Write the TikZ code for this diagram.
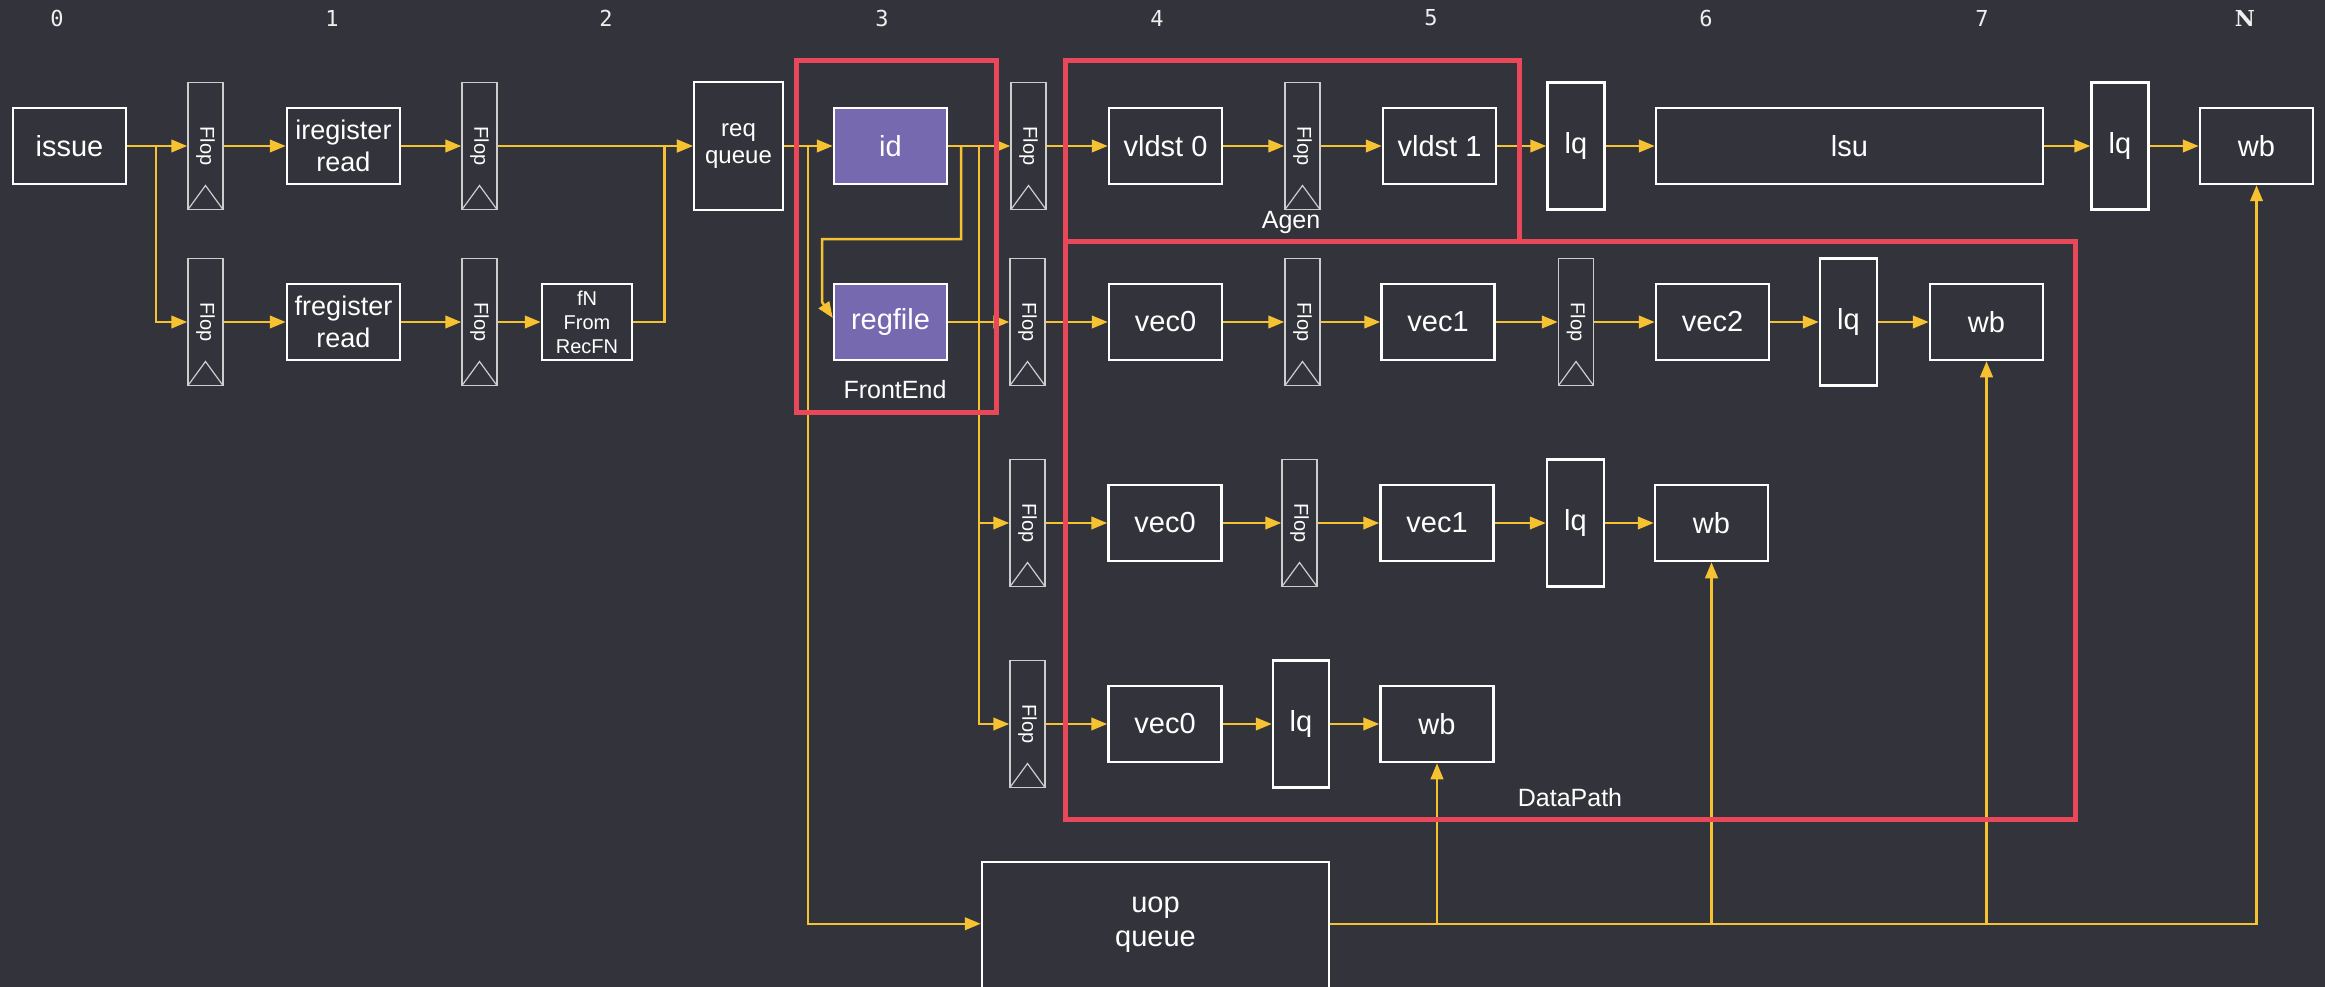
\documentclass[tikz,border=0pt]{standalone}
\usepackage{fontspec}
\usepackage{graphicx}
\setmainfont{Liberation Sans}
\newfontfamily\monofam{DejaVu Sans Mono}
\newfontfamily\seriffam{DejaVu Serif}
\usetikzlibrary{arrows.meta,calc}
\definecolor{bg}{RGB}{51,51,59}
\definecolor{yel}{RGB}{247,194,50}
\definecolor{redc}{RGB}{232,72,90}
\definecolor{purp}{RGB}{119,105,175}
\definecolor{flopc}{RGB}{205,205,205}
\newcommand\fmain{\fontsize{29pt}{34pt}\selectfont}
\newcommand\freg{\fontsize{27pt}{32pt}\selectfont}
\newcommand\freq{\fontsize{24pt}{27pt}\selectfont}
\newcommand\ffn{\fontsize{20pt}{24pt}\selectfont}
\newcommand\fflop{\fontsize{20pt}{24pt}\selectfont}
\newcommand\fgrp{\fontsize{25pt}{30pt}\selectfont}
\newcommand\fcol{\fontsize{22pt}{26pt}\selectfont}
\newcommand\floptext{\rotatebox{-90}{Flop}}
\tikzset{
  box/.style={draw=white, line width=2.5pt, text=white, inner sep=0pt,
    minimum width=113pt, minimum height=76pt, align=center, font=\fmain},
  pbox/.style={box, fill=purp},
  tallbox/.style={box, minimum width=57pt, minimum height=127pt},
  flopbox/.style={draw=flopc, line width=1.5pt, minimum width=35pt, minimum height=127pt,
    inner sep=0pt, text=white, font=\fflop,
    path picture={\draw[flopc, line width=1.2pt] (path picture bounding box.south west)
      -- ([yshift=24pt]path picture bounding box.south) -- (path picture bounding box.south east);}},
  wire/.style={draw=yel, line width=2.5pt, -{Triangle[length=16pt,width=12.5pt]}},
  grp/.style={draw=redc, line width=5pt},
  grplabel/.style={text=white, font=\fgrp},
  collabel/.style={text=white!92!bg, font=\fcol\monofam},
}
\begin{document}
\begin{tikzpicture}[x=1pt, y=-1pt]
\fill[bg] (0,0) rectangle (2325,987);
\useasboundingbox (0,0) rectangle (2325,987);

% column labels
\node[collabel] (c0) at (57,18) {0};
\node[collabel] (c1) at (332,18) {1};
\node[collabel] (c2) at (606,18) {2};
\node[collabel] (c3) at (882,18) {3};
\node[collabel] (c4) at (1157,18) {4};
\node[collabel] (c5) at (1431,18) {5};
\node[collabel] (c6) at (1706,18) {6};
\node[collabel] (c7) at (1982,18) {7};
\node[text=white!92!bg, font=\fcol\seriffam\bfseries] (cN) at (2245,18) {N};

% row A
\node[box] (issue) at (69.5,146) {issue};
\node[flopbox] (flopA1) at (205.5,146) {\floptext};
\node[box, font=\freg] (ireg) at (343.5,146) {iregister\\read};
\node[flopbox] (flopA2) at (479.5,146) {\floptext};
\node[box, font=\freq, minimum width=89pt, minimum height=128pt] (reqq) at (738.5,146) {req\\queue};
\node[pbox] (id) at (890.5,146) {id};
\node[flopbox] (flopA3) at (1028.5,146) {\floptext};
\node[box] (vldst0) at (1165.5,146) {vldst 0};
\node[flopbox] (flopA4) at (1302.5,146) {\floptext};
\node[box] (vldst1) at (1439.5,146) {vldst 1};
\node[tallbox] (lqA1) at (1576,146) {lq};
\node[box, minimum width=387pt] (lsu) at (1849.5,146) {lsu};
\node[tallbox] (lqA2) at (2120,146) {lq};
\node[box] (wbA) at (2256.5,146) {wb};

% row B
\node[flopbox] (flopB1) at (205.5,322) {\floptext};
\node[box, font=\freg] (freg) at (343.5,322) {fregister\\read};
\node[flopbox] (flopB2) at (479.5,322) {\floptext};
\node[box, font=\ffn, minimum width=90pt] (fN) at (587,322) {fN\\From\\RecFN};
\node[pbox] (regfile) at (890.5,322) {regfile};
\node[flopbox] (flopB3) at (1027.5,322) {\floptext};
\node[box] (vec0B) at (1165.5,322) {vec0};
\node[flopbox] (flopB4) at (1302.5,322) {\floptext};
\node[box] (vec1B) at (1438,322) {vec1};
\node[flopbox] (flopB5) at (1576,322) {\floptext};
\node[box] (vec2B) at (1712.5,322) {vec2};
\node[tallbox] (lqB) at (1848.5,322) {lq};
\node[box] (wbB) at (1986.5,322) {wb};

% row C
\node[flopbox] (flopC1) at (1027.5,523) {\floptext};
\node[box] (vec0C) at (1165,523) {vec0};
\node[flopbox] (flopC2) at (1299.5,523) {\floptext};
\node[box] (vec1C) at (1437,523) {vec1};
\node[tallbox] (lqC) at (1575.5,523) {lq};
\node[box] (wbC) at (1711.5,523) {wb};

% row D
\node[flopbox] (flopD1) at (1027.5,724) {\floptext};
\node[box] (vec0D) at (1165,724) {vec0};
\node[tallbox, minimum width=56pt] (lqD) at (1301,724) {lq};
\node[box] (wbD) at (1437,724) {wb};

% uop queue
\node[box, minimum width=347pt, minimum height=170pt] (uop) at (1155.5,947) {};
\node[text=white, font=\fmain, align=center] (uoptext) at (1155.5,925) {uop\\queue};

% junction coordinates
\coordinate (jissue) at (156,146);
\coordinate (jreq) at (808,146);
\coordinate (jid1) at (961,146);
\coordinate (jid2) at (979,146);
\coordinate (uopin) at ([yshift=-63pt]uop.north west);
\coordinate (uopout) at ([yshift=-63pt]uop.north east);
\coordinate (bD) at (wbD |- uopout);
\coordinate (bC) at (wbC |- uopout);
\coordinate (bB) at (wbB |- uopout);

% wires row A
\draw[wire] (issue) -- (flopA1);
\draw[wire] (jissue) |- (flopB1);
\draw[wire] (flopA1) -- (ireg);
\draw[wire] (ireg) -- (flopA2);
\draw[wire] (flopA2) -- (reqq);
\draw[wire] (fN.east) -- ++(31,0) |- (reqq.west);
\draw[wire] (reqq) -- (id);
\draw[wire] (jreq) |- (uopin);
\draw[wire] (id) -- (flopA3);
\draw[wire] (jid1) -- (961,239) -- (822,239) -- (822,302) -- ([yshift=4pt]regfile.west);
\draw[wire] (jid2) |- (flopC1);
\draw[wire] (jid2) |- (flopD1);
\draw[wire] (flopA3) -- (vldst0);
\draw[wire] (vldst0) -- (flopA4);
\draw[wire] (flopA4) -- (vldst1);
\draw[wire] (vldst1) -- (lqA1);
\draw[wire] (lqA1) -- (lsu);
\draw[wire] (lsu) -- (lqA2);
\draw[wire] (lqA2) -- (wbA);

% wires row B
\draw[wire] (flopB1) -- (freg);
\draw[wire] (freg) -- (flopB2);
\draw[wire] (flopB2) -- (fN);
\draw[wire] (regfile) -- (flopB3);
\draw[wire] (flopB3) -- (vec0B);
\draw[wire] (vec0B) -- (flopB4);
\draw[wire] (flopB4) -- (vec1B);
\draw[wire] (vec1B) -- (flopB5);
\draw[wire] (flopB5) -- (vec2B);
\draw[wire] (vec2B) -- (lqB);
\draw[wire] (lqB) -- (wbB);

% wires row C
\draw[wire] (flopC1) -- (vec0C);
\draw[wire] (vec0C) -- (flopC2);
\draw[wire] (flopC2) -- (vec1C);
\draw[wire] (vec1C) -- (lqC);
\draw[wire] (lqC) -- (wbC);

% wires row D
\draw[wire] (flopD1) -- (vec0D);
\draw[wire] (vec0D) -- (lqD);
\draw[wire] (lqD) -- (wbD);

% uop queue outputs
\draw[wire] (uopout) -| (wbA);
\draw[wire] (bD) -- (wbD);
\draw[wire] (bC) -- (wbC);
\draw[wire] (bB) -- (wbB);

% groups
\draw[grp] (796,61) rectangle (996,412);
\draw[grp] (1065,61) rectangle (1519,241);
\draw[grp] (1065,241) rectangle (2075,819);
\node[grplabel] (lfront) at (895,390) {FrontEnd};
\node[grplabel] (lagen) at (1291,222) {Agen};
\node[grplabel] (ldata) at (1570,798) {DataPath};
\end{tikzpicture}
\end{document}
